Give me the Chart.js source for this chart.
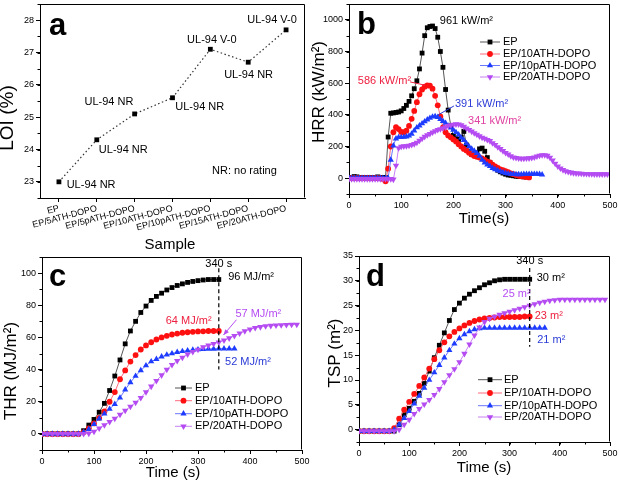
<!DOCTYPE html>
<html>
<head>
<meta charset="utf-8">
<script src="https://cdn.jsdelivr.net/npm/chart.js@4.4.0/dist/chart.umd.min.js"></script>
<style>
body { margin: 0; background: #fff; width: 619px; height: 486px; position: relative; overflow: hidden; }
canvas { position: absolute; }
</style>
</head>
<body>
<canvas id="ca" width="310" height="260" style="left:0;top:0"></canvas>
<canvas id="cb" width="309" height="243" style="left:310px;top:0"></canvas>
<canvas id="cc" width="310" height="243" style="left:0;top:243px"></canvas>
<canvas id="cd" width="309" height="243" style="left:310px;top:243px"></canvas>
<script>
// panel a
var samples = ['EP', 'EP/5ATH-DOPO', 'EP/5pATH-DOPO', 'EP/10ATH-DOPO', 'EP/10pATH-DOPO', 'EP/15ATH-DOPO', 'EP/20ATH-DOPO'];
var loi = [23.0, 24.3, 25.1, 25.6, 27.1, 26.7, 27.7];
var ratings = ['UL-94 NR', 'UL-94 NR', 'UL-94 NR', 'UL-94 NR', 'UL-94 V-0', 'UL-94 NR', 'UL-94 V-0'];
var loiTicks = [23, 24, 25, 26, 27, 28];

// panels b-d
var series = ['EP', 'EP/10ATH-DOPO', 'EP/10pATH-DOPO', 'EP/20ATH-DOPO'];
var peakHRR = [961, 586, 391, 341];
var thrAt340 = [96, 64, 52, 57];
var tspAt340 = [30, 23, 21, 25];
var timeTicks = [0, 100, 200, 300, 400, 500];
var hrrTicks = [0, 200, 400, 600, 800, 1000];
var thrTicks = [0, 20, 40, 60, 80, 100];
var tspTicks = [0, 5, 10, 15, 20, 25, 30, 35];

var hrrTime = [0,5,10,15,20,25,30,35,40,45,50,55,60,65,70,75,80,85,90,95,100,105,110,115,120,125,130,135,140,145,
  150,155,160,165,170,175,180,185,190,195,200,205,210,215,220,225,230,235,240,245,250,255,260,265,270,275,280,285,290,295,
  300,305,310,315,320,325,330,335,340,345,350,355,360,365,370,375,380,385,390,395,400,405,410,415,420,425,430,435,440,445,
  450,455,460,465,470,475,480,485,490,495];
var hrrEP = [5,5,10,8,5,5,5,5,5,5,5,8,5,5,5,
  260,410,412,415,418,425,440,460,485,520,565,615,690,790,900,950,958,961,945,890,800,700,560,430,330,
  270,250,245,260,295,210,170,150,145,160,185,190,170,130,100,80,65,50,40,32,25,20,18,15,12,10,10,8,8];
var hrr10ATH = [0,0,0,0,0,0,0,0,0,0,0,0,0,-5,
  -20,60,200,290,322,310,292,290,300,330,375,425,480,530,560,578,586,584,565,520,460,390,320,290,270,258,
  245,232,215,200,185,175,160,150,140,135,130,125,115,105,100,85,75,65,55,50,45,38,30,25,20,15,12,10,8,5];
var hrr10pATH = [0,0,0,0,0,0,0,0,0,0,0,0,0,0,0,0,
  115,205,250,258,258,260,262,268,280,300,320,332,345,358,370,380,388,391,385,372,360,348,330,318,305,290,275,255,
  240,220,200,185,172,158,140,115,98,85,75,63,55,48,42,36,32,28,26,25,24,24,24,25,25,25,25,26,26,25,22];
var hrr20ATH = [-5,-5,-5,-5,-5,-5,-5,-5,-5,-5,-5,-5,-5,-5,-5,-5,-5,-8,
  80,190,200,202,203,206,210,216,225,238,250,262,272,280,290,298,305,310,316,322,330,335,338,341,340,335,325,315,
  305,295,285,275,265,257,250,242,235,222,210,197,185,172,160,150,140,132,128,125,124,124,125,126,128,132,138,143,
  146,146,142,130,112,92,75,62,52,45,40,36,33,31,30,29,28,27,26,26,25,25,25,25,25,25];

var sumTime = [0,10,20,30,40,50,60,70,80,90,100,110,120,130,140,150,160,170,180,190,200,210,220,230,240,250,
  260,270,280,290,300,310,320,330,340,350,360,370,380,390,400,410,420,430,440,450,460,470,480,490];
var thrEP = [0,0,0,0,0,0,0,0,2,5.5,9,13.5,19,27,36,46,56,64,70,75.5,79.5,83,85.5,87.5,89.5,91,92.3,93.3,94.2,94.8,95.3,95.7,96,96,96];
var thr10ATH = [0,0,0,0,0,0,0,0,1,3.5,6.5,10,14,20,26,34,39.5,45,49,52.5,55,57,58.7,60,61,61.8,62.4,62.9,63.2,63.5,63.7,63.8,64,64,64];
var thr10pATH = [0,0,0,0,0,0,0,0,1,3,6,9.5,12.5,15.5,18.5,22.5,27.5,32,36,39.5,42.5,45,46.5,48,49.2,50,50.8,51.4,51.8,52.2,52.5,52.7,52.8,52.9,53,53,53,53];
var thr20ATH = [0,0,0,0,0,0,0,0,0,0.3,1.5,3.5,5.5,7.5,9.5,12,14.5,17,19.5,22.5,26,29.5,33,36.5,40,43,45.5,47.5,49.5,51,
  52.5,54,55,56,57,58.2,59.5,61,62.5,64,65,66,66.5,67,67.3,67.5,67.7,67.8,68,68];
var tspEP = [-0.3,-0.3,-0.3,-0.3,-0.3,-0.3,-0.3,-0.3,1,3,4.3,5.7,7.3,9.3,11.8,14.5,17,19.5,22,24.2,25.5,26.5,27.3,28,28.6,29.2,29.6,30,30.2,30.3,30.3,30.3,30.3,30.3,30.3];
var tsp10ATH = [-0.3,-0.3,-0.3,-0.3,-0.3,-0.3,-0.3,0.3,2.2,4,5.6,7.2,8.8,10.5,12.3,14.2,16,17.6,18.8,19.7,20.4,21,21.5,21.9,22.2,22.4,22.5,22.6,22.7,22.7,22.7,22.7,22.7,22.8,22.8];
var tsp10pATH = [-0.3,-0.3,-0.3,-0.3,-0.3,-0.3,-0.3,0,1,2.3,3.7,5.2,6.8,8.4,10,11.5,13,14.5,16,17.3,18.4,19.2,19.8,20.2,20.4,20.5,20.5,20.5,20.5,20.5,20.5,20.5,20.5,20.5,20.5,20.5,20.5,20.5];
var tsp20ATH = [-0.3,-0.3,-0.3,-0.3,-0.3,-0.3,-0.3,-0.3,0,1,2,3.2,4.2,5.1,6,7,8.2,9.6,11,12.2,13.6,15.3,17.2,19,20.6,21.7,22.4,22.8,23.2,23.5,
  23.8,24.1,24.4,24.7,25,25.3,25.6,25.8,26,26.1,26.2,26.2,26.2,26.2,26.2,26.2,26.2,26.2,26.2,26.2];

// styles
var FONT = '"Liberation Sans", Arial, sans-serif';
var markColor = ['#000000', '#ff1010', '#1e3cff', '#b54cf2'];
var lineColor = ['#555555', '#ff6b7d', '#6a78ff', '#c880f6'];
var noteColor = ['#000000', '#ee2040', '#2a3ad6', '#b54cf2'];
var shapes = ['rect', 'circle', 'triangle', 'triangle'];
var turns = [0, 0, 0, 180];
var sizes = [3.4, 2.9, 3.6, 3.7];

Chart.defaults.font.family = FONT;
Chart.defaults.color = '#000';

function pairs(t, v) {
  return v.map(function (y, i) { return { x: t[i], y: y }; });
}

function lineSet(i, t, v) {
  return {
    label: series[i],
    data: pairs(t, v),
    borderColor: lineColor[i],
    borderWidth: 1,
    backgroundColor: markColor[i],
    pointBackgroundColor: markColor[i],
    pointBorderWidth: 0,
    pointStyle: shapes[i],
    pointRotation: turns[i],
    pointRadius: sizes[i],
    order: 3 - i
  };
}

function fixY(w) { return function (s) { s.width = w; s.paddingTop = 0; s.paddingBottom = 0; }; }
function fixX(h) { return function (s) { s.height = h; s.paddingLeft = 0; s.paddingRight = 0; }; }
function useTicks(list) { return function (s) { s.ticks = list.map(function (v) { return { value: v }; }); }; }
function plain(v) { return String(v); }
function grid() { return { drawOnChartArea: false, drawTicks: true, tickLength: 4, color: '#000', lineWidth: 1, offset: false }; }
var border = { display: true, color: '#000', width: 1 };

function text(ctx, str, x, y, size, color, align, rot, bold) {
  ctx.save();
  ctx.font = (bold ? 'bold ' : '') + size + 'px ' + FONT;
  ctx.fillStyle = color || '#000';
  ctx.textAlign = align || 'center';
  ctx.textBaseline = 'middle';
  ctx.translate(x, y);
  if (rot) ctx.rotate(-Math.PI / 2);
  ctx.fillText(str, 0, 0);
  ctx.restore();
}

function decor(cfg) {
  return {
    id: 'decor',
    afterDraw: function (chart) {
      var ctx = chart.ctx, a = chart.chartArea, xs = chart.scales.x, ys = chart.scales.y, v;
      ctx.save();
      ctx.strokeStyle = '#000';
      ctx.lineWidth = 1;
      var l = Math.round(a.left) + 0.5, r = Math.round(a.right) - 0.5, t = Math.round(a.top) + 0.5, b = Math.round(a.bottom) - 0.5;
      ctx.beginPath();
      ctx.moveTo(l, t); ctx.lineTo(r, t); ctx.lineTo(r, b);
      ctx.stroke();
      ctx.beginPath();
      if (cfg.xMinor) {
        for (v = xs.min; v <= xs.max + 1e-9; v += cfg.xMinor) {
          var px = Math.round(xs.getPixelForValue(v)) + 0.5;
          ctx.moveTo(px, a.bottom); ctx.lineTo(px, a.bottom + 2.5);
        }
      }
      if (cfg.yMinor) {
        for (v = ys.min; v <= ys.max + 1e-9; v += cfg.yMinor) {
          var py = Math.round(ys.getPixelForValue(v)) + 0.5;
          ctx.moveTo(a.left, py); ctx.lineTo(a.left - 2.5, py);
        }
      }
      ctx.stroke();

      // reference lines and leaders, in data units
      (cfg.lines || []).forEach(function (ln) {
        var x1 = xs.getPixelForValue(ln.x1), y1 = ys.getPixelForValue(ln.y1);
        var x2 = xs.getPixelForValue(ln.x2), y2 = ys.getPixelForValue(ln.y2);
        ctx.save();
        ctx.strokeStyle = ln.color; ctx.fillStyle = ln.color;
        ctx.lineWidth = ln.width || 1;
        ctx.setLineDash(ln.dash || []);
        ctx.beginPath(); ctx.moveTo(x1, y1); ctx.lineTo(x2, y2); ctx.stroke();
        if (ln.arrow) {
          var ang = Math.atan2(y2 - y1, x2 - x1);
          ctx.setLineDash([]);
          ctx.beginPath();
          ctx.moveTo(x2, y2);
          ctx.lineTo(x2 - 6 * Math.cos(ang - 0.4), y2 - 6 * Math.sin(ang - 0.4));
          ctx.lineTo(x2 - 6 * Math.cos(ang + 0.4), y2 - 6 * Math.sin(ang + 0.4));
          ctx.closePath(); ctx.fill();
        }
        ctx.restore();
      });

      (cfg.notes || []).forEach(function (n) {
        text(ctx, n.text, xs.getPixelForValue(n.x), ys.getPixelForValue(n.y), n.size || 11, n.color, n.align);
      });

      if (cfg.legend) {
        var lg = cfg.legend;
        chart.data.datasets.forEach(function (ds, i) {
          var y = lg.rows[i];
          ctx.save();
          ctx.strokeStyle = ds.borderColor; ctx.lineWidth = 1;
          ctx.beginPath(); ctx.moveTo(lg.x1, y); ctx.lineTo(lg.x2, y); ctx.stroke();
          ctx.fillStyle = ds.pointBackgroundColor;
          Chart.helpers.drawPoint(ctx, { pointStyle: ds.pointStyle, rotation: ds.pointRotation, radius: ds.pointRadius, borderWidth: 0 }, (lg.x1 + lg.x2) / 2, y);
          ctx.restore();
          text(ctx, ds.label, lg.xt, y, 11, '#000', 'left');
        });
      }

      (cfg.titles || []).forEach(function (tt) {
        text(ctx, tt.text, tt.x, tt.y, tt.size, '#000', 'center', tt.rot);
      });
      if (cfg.letter) text(ctx, cfg.letter.text, cfg.letter.x, cfg.letter.y, 31, '#000', 'left', false, true);
      ctx.restore();
    }
  };
}

function timeAxis(h) {
  return {
    type: 'linear', min: 0, max: 500,
    ticks: { maxRotation: 0, font: { size: 9 }, padding: 2, callback: plain },
    afterBuildTicks: useTicks(timeTicks),
    grid: grid(), border: border, afterFit: fixX(h)
  };
}
function valueAxis(min, max, list, w) {
  return {
    min: min, max: max,
    ticks: { font: { size: 9 }, padding: 2, callback: plain },
    afterBuildTicks: useTicks(list),
    grid: grid(), border: border, afterFit: fixY(w)
  };
}
function baseOptions(pad, xAxis, yAxis) {
  return {
    responsive: false, animation: false, devicePixelRatio: 1,
    layout: { padding: pad },
    plugins: { legend: { display: false }, tooltip: { enabled: false } },
    elements: { line: { tension: 0 } },
    scales: { x: xAxis, y: yAxis }
  };
}

// a: LOI
var ratingPos = [[0.85, 22.9], [1.7, 24.0], [1.32, 25.47], [3.72, 25.32], [4.04, 27.39], [5.01, 26.32], [5.63, 28.0]];
var notesA = ratings.map(function (r, i) { return { text: r, x: ratingPos[i][0], y: ratingPos[i][1] }; });
notesA.push({ text: 'NR: no rating', x: 4.9, y: 23.33 });
var axA = {
  type: 'category', offset: true,
  ticks: { font: { size: 9 }, minRotation: 15, maxRotation: 15, autoSkip: false, padding: 1 },
  grid: grid(), border: border, afterFit: fixX(62)
};
new Chart(document.getElementById('ca'), {
  type: 'line',
  data: {
    labels: samples,
    datasets: [{
      data: loi, borderColor: '#333', borderWidth: 1.2, borderDash: [1.5, 2.5],
      pointStyle: 'rect', pointRadius: 3.4, pointBackgroundColor: '#000', pointBorderWidth: 0
    }]
  },
  options: baseOptions({ left: 0, top: 3, right: 5, bottom: 0 }, axA, valueAxis(22.5, 28.5, loiTicks, 40)),
  plugins: [decor({
    yMinor: 0.5, notes: notesA,
    titles: [{ text: 'LOI (%)', x: 8, y: 118, size: 19, rot: true }, { text: 'Sample', x: 170, y: 245, size: 15 }],
    letter: { text: 'a', x: 49, y: 26 }
  })]
});

// b: HRR
new Chart(document.getElementById('cb'), {
  type: 'line',
  data: {
    datasets: [lineSet(0, hrrTime, hrrEP), lineSet(1, hrrTime, hrr10ATH), lineSet(2, hrrTime, hrr10pATH), lineSet(3, hrrTime, hrr20ATH)]
  },
  options: baseOptions({ left: 0, top: 3, right: 9, bottom: 0 }, timeAxis(49), valueAxis(-100, 1100, hrrTicks, 39)),
  plugins: [decor({
    xMinor: 50, yMinor: 100,
    lines: [
      { x1: 117, y1: 608, x2: 146, y2: 587, color: noteColor[1] },
      { x1: 201, y1: 456, x2: 171, y2: 400, color: noteColor[2] }
    ],
    notes: [
      { text: peakHRR[0] + ' kW/m²', x: 174, y: 994, color: noteColor[0], align: 'left' },
      { text: peakHRR[1] + ' kW/m²', x: 17, y: 612, color: noteColor[1], align: 'left' },
      { text: peakHRR[2] + ' kW/m²', x: 203, y: 469, color: noteColor[2], align: 'left' },
      { text: peakHRR[3] + ' kW/m²', x: 228, y: 364, color: '#e0409f', align: 'left' }
    ],
    legend: { x1: 170, x2: 190, xt: 193, rows: [42, 54, 65.5, 77] },
    titles: [{ text: 'HRR (kW/m²)', x: 9, y: 92, size: 17, rot: true }, { text: 'Time(s)', x: 174, y: 219, size: 15 }],
    letter: { text: 'b', x: 47, y: 25 }
  })]
});

// c: THR
new Chart(document.getElementById('cc'), {
  type: 'line',
  data: {
    datasets: [lineSet(0, sumTime, thrEP), lineSet(1, sumTime, thr10ATH), lineSet(2, sumTime, thr10pATH), lineSet(3, sumTime, thr20ATH)]
  },
  options: baseOptions({ left: 0, top: 14, right: 8, bottom: 0 }, timeAxis(36), valueAxis(-10, 110, thrTicks, 42)),
  plugins: [decor({
    xMinor: 50, yMinor: 10,
    lines: [
      { x1: 340, y1: 103, x2: 340, y2: 40, color: '#000', dash: [4, 3], width: 1.2 },
      { x1: 374, y1: 71, x2: 349, y2: 61.5, color: noteColor[3], arrow: true }
    ],
    notes: [
      { text: '340 s', x: 340, y: 105.8 },
      { text: thrAt340[0] + ' MJ/m²', x: 358, y: 97.5, color: noteColor[0], align: 'left' },
      { text: thrAt340[1] + ' MJ/m²', x: 282, y: 70, color: noteColor[1] },
      { text: thrAt340[2] + ' MJ/m²', x: 352, y: 44.7, color: noteColor[2], align: 'left' },
      { text: thrAt340[3] + ' MJ/m²', x: 416, y: 74.5, color: noteColor[3] }
    ],
    legend: { x1: 175, x2: 192, xt: 195, rows: [145, 157.7, 170.7, 183.3] },
    titles: [{ text: 'THR (MJ/m²)', x: 11.5, y: 128, size: 17, rot: true }, { text: 'Time (s)', x: 173, y: 230, size: 15 }],
    letter: { text: 'c', x: 49, y: 34 }
  })]
});

// d: TSP
new Chart(document.getElementById('cd'), {
  type: 'line',
  data: {
    datasets: [lineSet(0, sumTime, tspEP), lineSet(1, sumTime, tsp10ATH), lineSet(2, sumTime, tsp10pATH), lineSet(3, sumTime, tsp20ATH)]
  },
  options: baseOptions({ left: 0, top: 13, right: 9, bottom: 0 }, timeAxis(44), valueAxis(-2.5, 35, tspTicks, 49)),
  plugins: [decor({
    xMinor: 50, yMinor: 2.5,
    lines: [{ x1: 340, y1: 32.6, x2: 340, y2: 16.7, color: '#000', dash: [4, 3], width: 1.2 }],
    notes: [
      { text: '340 s', x: 340, y: 33.9 },
      { text: tspAt340[0] + ' m²', x: 354, y: 30.5, color: noteColor[0], align: 'left' },
      { text: tspAt340[1] + ' m²', x: 350, y: 22.9, color: noteColor[1], align: 'left' },
      { text: tspAt340[2] + ' m²', x: 355, y: 18.1, color: noteColor[2], align: 'left' },
      { text: tspAt340[3] + ' m²', x: 314, y: 27.3, color: noteColor[3] }
    ],
    legend: { x1: 168, x2: 192, xt: 194, rows: [136.7, 150, 162.7, 174] },
    titles: [{ text: 'TSP (m²)', x: 25, y: 110, size: 17, rot: true }, { text: 'Time (s)', x: 174, y: 224.5, size: 15 }],
    letter: { text: 'd', x: 56, y: 34 }
  })]
});
</script>
</body>
</html>
